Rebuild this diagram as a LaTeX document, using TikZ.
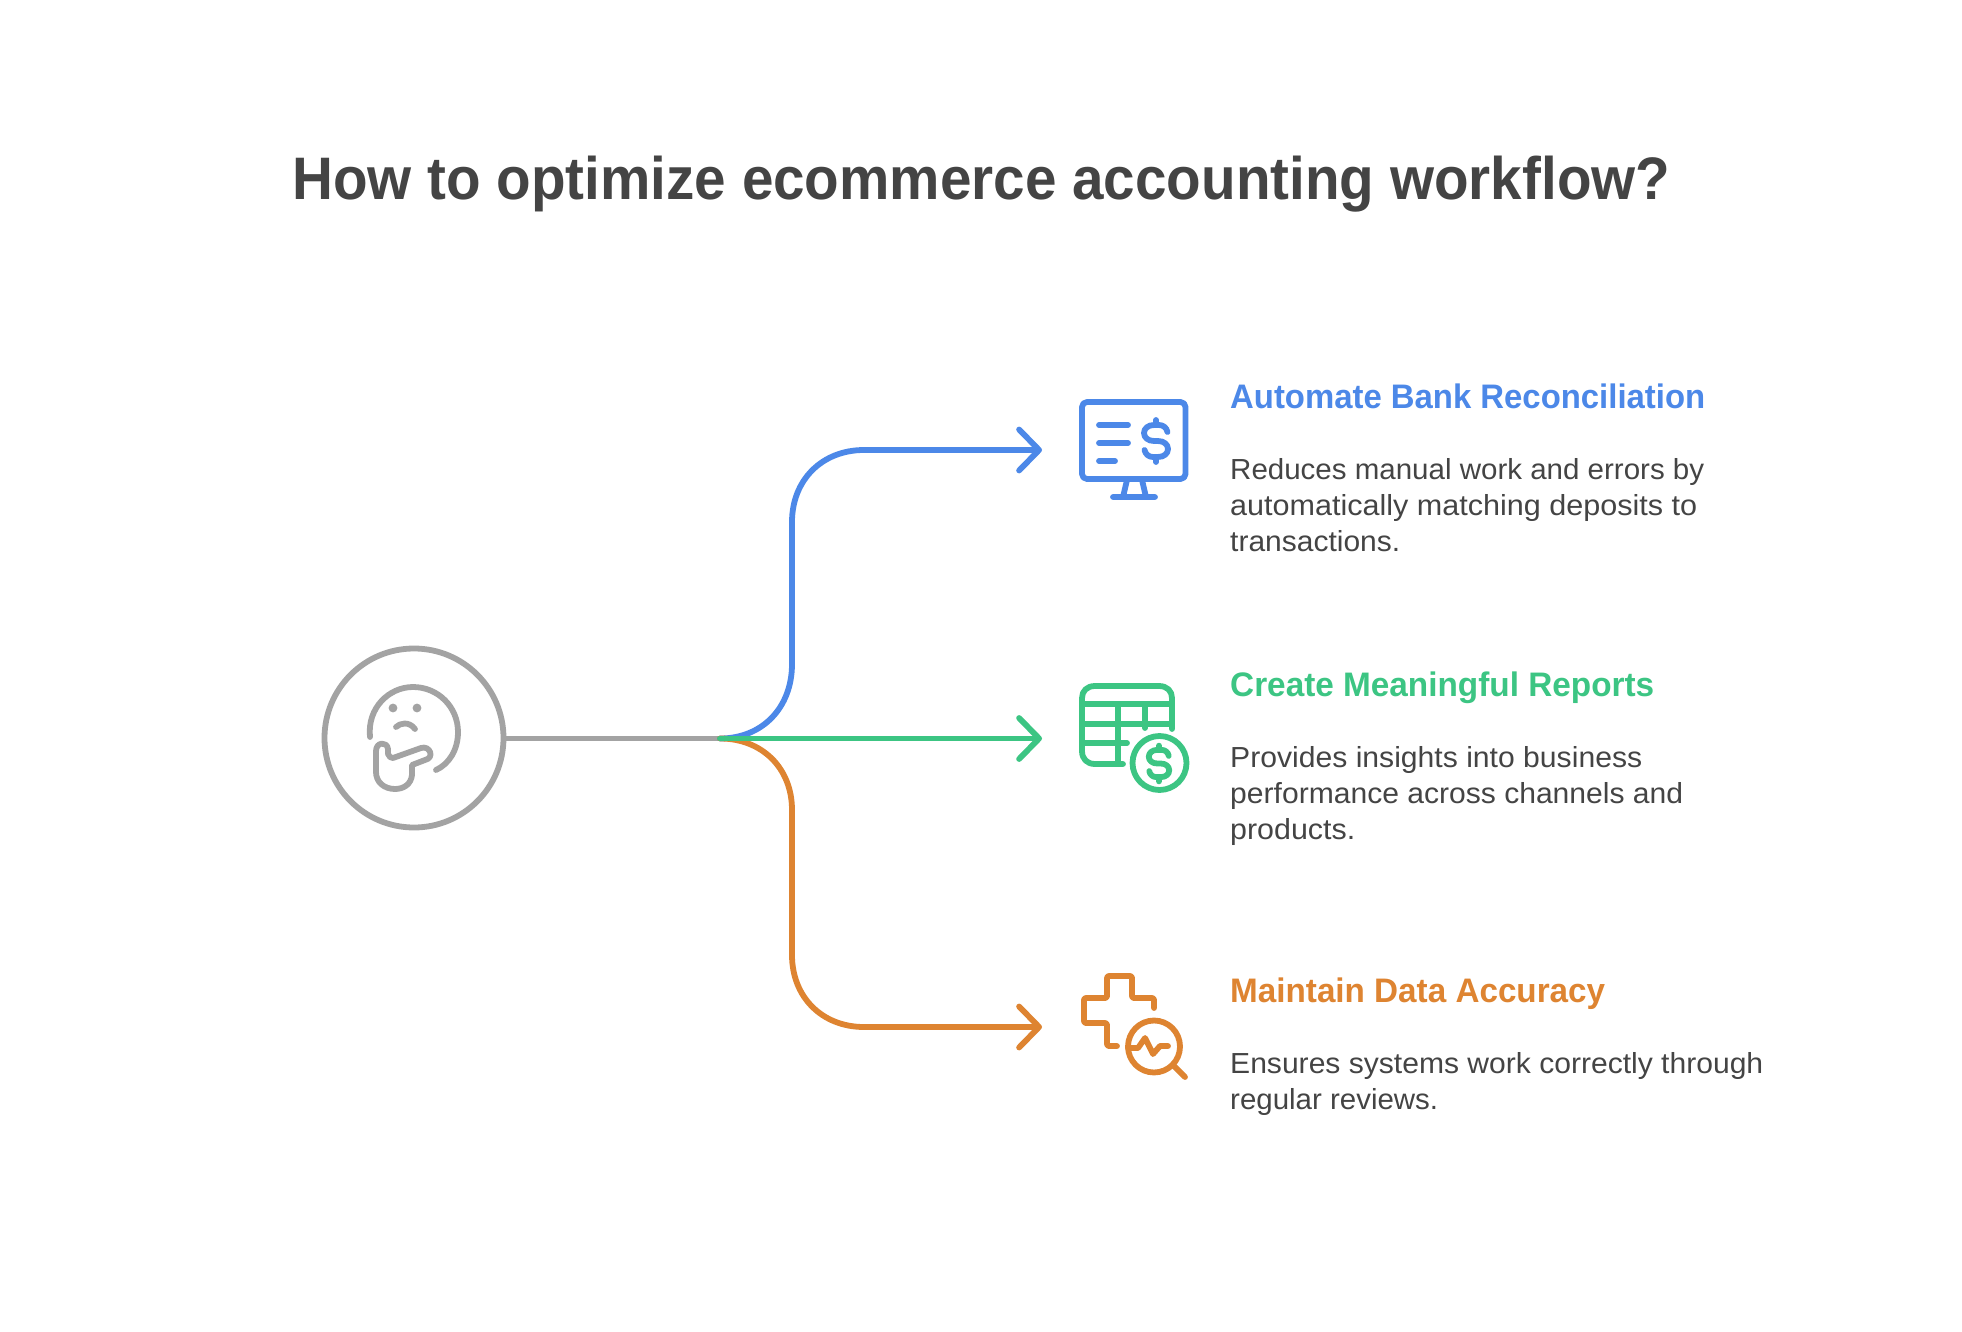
\documentclass[tikz,border=0pt]{standalone}
\usepackage{fontspec}
\usepackage{graphicx}
\setmainfont{Liberation Sans}
\usetikzlibrary{arrows.meta}
\definecolor{cblue}{HTML}{4C88E8}
\definecolor{cgreen}{HTML}{3CC583}
\definecolor{corange}{HTML}{DE8431}
\definecolor{cgray}{HTML}{A3A3A3}
\definecolor{ctext}{HTML}{444444}
\tikzset{
  conn/.style={line width=5.8pt,line cap=round,-{Straight Barb[length=20pt,width=41pt,line width=5.8pt,round]}},
  trunk/.style={line width=5.8pt,cgray},
  ico/.style={line width=5.8pt,line cap=round,line join=round},
  titletext/.style={anchor=base west,inner sep=0,text=ctext,font=\fontsize{60}{64}\selectfont\bfseries},
  headtext/.style={anchor=base west,inner sep=0,font=\fontsize{34}{40}\selectfont\bfseries},
  bodytext/.style={anchor=base west,inner sep=0,text=ctext,font=\fontsize{29}{36}\selectfont},
}
\newcommand{\fitw}[2]{\resizebox{#1pt}{\height}{#2}}
\newcommand{\dollarmark}[3]{%
  \begin{scope}[shift={(#1,#2)},x=#3pt,y=-#3pt]
    \draw (11.5,-9) .. controls (10.5,-13.5) and (7,-16) .. (3,-16) -- (-2,-16)
      .. controls (-8,-16) and (-12,-12.5) .. (-12,-8) .. controls (-12,-3.5) and (-8,0) .. (-2,0)
      -- (2,0) .. controls (8,0) and (12,3.5) .. (12,8) .. controls (12,12.5) and (8,16) .. (2,16)
      -- (-3,16) .. controls (-7,16) and (-10.5,13.5) .. (-11.5,9);
    \draw (0,-21) -- (0,-16) (0,16) -- (0,21);
  \end{scope}}
\begin{document}
\begin{tikzpicture}[x=1pt,y=-1pt]
\useasboundingbox[fill=white] (0,0) rectangle (1962,1332);
\node[titletext] (title) at (292,200) {\fitw{1378}{How to optimize ecommerce accounting workflow?}};

% hub
\node[circle,draw=cgray,line width=5.8pt,minimum size=179pt,inner sep=0] (hub) at (414,738) {};
\coordinate (fork) at (720,738.5);
\coordinate (tipa) at (1042,450);
\coordinate (tipb) at (1042,738.5);
\coordinate (tipc) at (1042,1027);

% connectors
\draw[trunk] (hub.east |- fork) -- (fork);
\draw[conn,cblue] (fork) .. controls (762,738.5) and (792,708) .. (792,664) -- (792,522)
  .. controls (792,480) and (822,450) .. (864,450) -- (tipa);
\draw[conn,corange] (fork) .. controls (762,738.5) and (792,768) .. (792,810) -- (792,955)
  .. controls (792,997) and (822,1027) .. (864,1027) -- (tipc);
\draw[conn,cgreen] (fork) -- (tipb);

% thinking face
\begin{scope}[ico,cgray]
  \draw (370,737) .. controls (367,708) and (389,687) .. (413,687)
     .. controls (438,687) and (458,707) .. (458,732)
     .. controls (458,750) and (449,764) .. (436,770);
  \fill (393,708) circle (4.4pt) (417,708) circle (4.4pt);
  \draw (396,727) .. controls (400,723) and (409,721) .. (415,729);
  \draw (393,758) -- (421,748) .. controls (430,745) and (435,758) .. (425,760)
     -- (412,765) -- (412,775) .. controls (411,784) and (404,789) .. (395,789)
     .. controls (384,789) and (376,782) .. (376,772) -- (376,751)
     .. controls (376,742) and (387,741) .. (388,749) -- (388,754) .. controls (389,757) and (391,758) .. (393,758) -- cycle;
\end{scope}

% monitor icon
\begin{scope}[ico,cblue]
  \draw[rounded corners=5pt] (1082,402) rectangle (1185.5,479);
  \draw (1099,425) -- (1128,425) (1099,443) -- (1128,443) (1099,461) -- (1115,461);
  \dollarmark{1156}{441}{1}
  \draw (1127,480) -- (1123,497) (1142,480) -- (1146,497) (1113,497) -- (1155,497);
\end{scope}

% table icon
\begin{scope}[ico,cgreen]
  \draw (1123,764) -- (1095,764) .. controls (1087,764) and (1082,759) .. (1082,751) -- (1082,698)
    .. controls (1082,691) and (1087,686) .. (1095,686) -- (1159,686)
    .. controls (1167,686) and (1172,691) .. (1172,698) -- (1172,729);
  \draw (1082,704) -- (1172,704) (1082,724) -- (1172,724) (1082,743) -- (1127,743);
  \draw (1118,704) -- (1118,764) (1145,704) -- (1145,728);
  \draw[fill=white] (1159.5,763) circle (27pt);
  \dollarmark{1159}{763.5}{0.85}
\end{scope}

% cross and lens icon
\begin{scope}[ico,corange]
  \draw[rounded corners=2pt] (1117,1046) -- (1107,1046) -- (1107,1023) -- (1084,1023) -- (1084,998)
    -- (1107,998) -- (1107,976) -- (1132,976) -- (1132,998) -- (1154,998) -- (1154,1008);
  \draw[fill=white] (1154,1046.5) circle (26pt);
  \draw (1173,1065) -- (1185,1077);
  \draw (1128,1048) -- (1138,1048) -- (1145,1038) -- (1153,1054) -- (1160,1046) -- (1168,1046);
\end{scope}

% texts
\node[headtext,text=cblue] (ha) at (1230,408) {\fitw{475}{Automate Bank Reconciliation}};
\node[bodytext] (ba1) at (1230,479) {\fitw{474}{Reduces manual work and errors by}};
\node[bodytext] (ba2) at (1230,515) {\fitw{467}{automatically matching deposits to}};
\node[bodytext] (ba3) at (1230,551) {\fitw{170}{transactions.}};
\node[headtext,text=cgreen] (hb) at (1230,696) {\fitw{424}{Create Meaningful Reports}};
\node[bodytext] (bb1) at (1230,767) {\fitw{412}{Provides insights into business}};
\node[bodytext] (bb2) at (1230,803) {\fitw{453}{performance across channels and}};
\node[bodytext] (bb3) at (1230,839) {\fitw{125}{products.}};
\node[headtext,text=corange] (hc) at (1230,1002) {\fitw{375}{Maintain Data Accuracy}};
\node[bodytext] (bc1) at (1230,1073) {\fitw{533}{Ensures systems work correctly through}};
\node[bodytext] (bc2) at (1230,1109) {\fitw{208}{regular reviews.}};
\end{tikzpicture}
\end{document}
